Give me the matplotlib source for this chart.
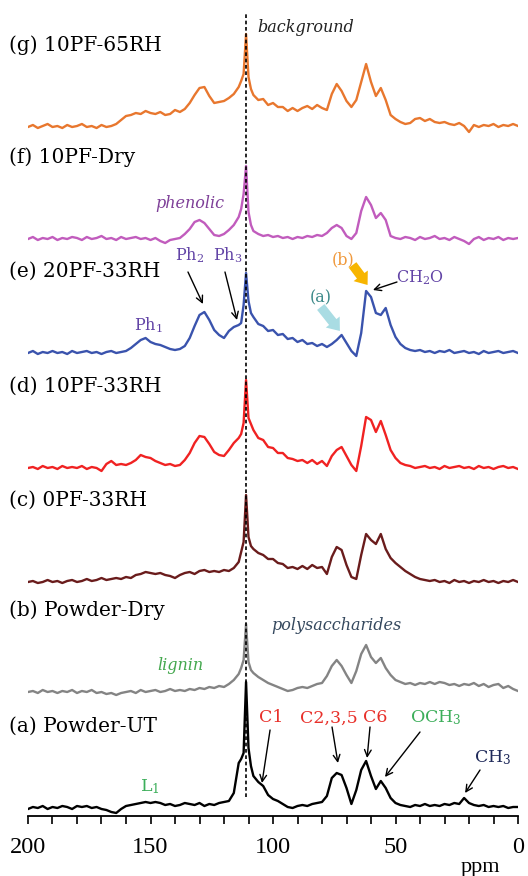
import matplotlib
matplotlib.use("Agg")
import matplotlib.pyplot as plt

plt.rcParams['mathtext.fontset'] = 'dejavuserif'

# ---------------- data (intensities, arbitrary units) -------------
ppm = list(range(200, 113, -2)) + [113, 112, 111, 110, 109] + list(range(108, -1, -2))

spec_g = [0, 2, -1, 1, 3, 0, 1, -1, 2, 0, 1, 3, 0, 1, -1, 2, 0, 1,
          3, 7, 11, 12, 14, 13, 16, 14, 13, 15, 12, 13, 17, 15, 18, 24, 32, 39, 40, 31, 24, 25, 26, 29, 33, 40,
          46, 53, 93, 50, 38,
          32, 27, 28, 22, 24, 20, 20, 16, 19, 16, 19, 21, 18, 22, 19, 17, 33, 43, 36, 26, 20, 27, 45, 63, 45,
          31, 39, 27, 12, 8, 5, 3, 4, 8, 9, 6, 8, 5, 4, 5, 3, 2, 4, 1, -5, 2, 0, 2, 1, 3, 0, 2, 1, 3, 1]

spec_f = [0, 2, -1, 1, 0, 2, -1, 1, 0, 2, 1, -1, 2, 0, 1, 3, 0, 1, -1, 2, 0, 1, 2, 0, 1, -1, 1, -2, -4, -1,
          0, 1, 5, 10, 17, 19, 16, 10, 4, 3, 5, 9, 14, 22,
          30, 45, 73, 27, 14,
          8, 5, 3, 4, 2, 3, 1, 2, 0, 2, 1, 3, 2, 4, 3, 6, 11, 14, 11, 3, 0, 6, 28, 42, 34,
          21, 26, 19, 3, 1, 0, 2, 1, -1, 2, 0, 1, 3, 0, 1, -1, 2, 0, -2, -5, 0, 2, -1, 1, 0, 2, -1, 1, 0, 1]

spec_e = [0, 2, -1, 1, 0, 2, 0, 1, -1, 2, 0, 1, 2, 0, 1, -1, 1, 2, 0, 1,
          2, 5, 9, 13, 15, 11, 9, 8, 6, 4, 3, 4, 7, 15, 27, 38, 41, 33, 23, 18, 15, 22, 26, 28,
          30, 48, 80, 52, 40,
          36, 29, 27, 22, 23, 18, 19, 14, 15, 11, 13, 9, 10, 7, 9, 6, 9, 13, 18, 10, 2, -3, 20, 62, 56,
          40, 38, 45, 28, 16, 9, 5, 3, 2, 3, 1, 2, 0, 2, 1, 3, 0, 1, 2, 0, 1, -1, 2, 0, 1, 2, 0, 1, 2, 0]

spec_d = [0, 1, -1, 2, 0, 1, -1, 2, 0, 1, 0, 2, -1, 1, 0, -3,
          4, 7, 3, 4, 3, 5, 8, 13, 11, 10, 7, 5, 3, 4, 2, 3, 8, 15, 25, 32, 31, 24, 16, 13, 12, 18, 25, 30,
          34, 45, 88, 50, 44,
          38, 30, 28, 21, 20, 15, 15, 10, 9, 7, 8, 5, 8, 4, 7, 2, 12, 18, 21, 12, 3, -3, 22, 51, 48,
          36, 47, 33, 18, 10, 5, 3, 2, 0, 1, 2, 0, 1, -1, 2, 0, 1, 2, 0, 1, -1, 2, 0, 1, -1, 1, 2, 0, 1, -1]

spec_c = [0, 1, -1, 0, 2, 0, 1, -1, 1, 2, 0, 1, 3, 1, 2, 4, 2, 3, 4, 3, 5, 4, 7, 8, 10, 9, 8, 9, 7, 6,
          4, 7, 9, 10, 8, 11, 12, 10, 11, 10, 12, 11, 14, 20,
          30, 40, 87, 45, 36,
          33, 29, 27, 23, 23, 19, 18, 14, 15, 13, 16, 13, 17, 14, 15, 8, 25, 35, 32, 17, 5, 3, 27, 48, 42,
          38, 48, 33, 24, 19, 15, 11, 8, 5, 3, 2, 1, 2, 0, 1, -1, 2, 0, 1, -1, 1, 0, 2, 0, 1, -1, 1, 0, 2, 0]

spec_b = [0, 1, -1, 2, 0, 1, -1, 1, 0, 2, -1, 1, 0, 2, -1, 0, -2, -1, -3, -1, 0, 1, -1, 2, 0, 1, 2, 0, 1, 3,
          1, 2, 1, 3, 2, 4, 3, 5, 4, 6, 5, 8, 12, 18,
          24, 32, 68, 30, 22,
          19, 15, 12, 9, 7, 5, 3, 1, 2, 4, 5, 4, 6, 8, 9, 16, 26, 32, 26, 17, 9, 21, 38, 47, 35,
          29, 34, 24, 17, 12, 10, 8, 9, 7, 9, 8, 10, 8, 10, 9, 7, 8, 6, 8, 7, 9, 6, 8, 5, 7, 8, 4, 6, 3, 1]

spec_a = [-1, 1, 0, 2, -1, 1, 0, 2, 1, -1, 2, 1, 2, 0, 1, -1, -2, -4, -5, -1, 2, 3, 4, 5, 6, 5, 6, 5, 3, 4,
          2, 3, 5, 4, 3, 5, 2, 4, 3, 5, 6, 7, 15, 45,
          49, 55, 126, 60, 42,
          32, 26, 22, 13, 9, 7, 4, 1, 0, 2, 3, 2, 4, 5, 6, 12, 30, 35, 33, 20, 4, 18, 38, 47, 32,
          19, 27, 20, 10, 5, 3, 2, 1, 3, 2, 4, 2, 3, 2, 4, 3, 5, 4, 10, 5, 3, 2, 3, 1, 2, 1, 2, 0, 1, 1]

trace_labels = ["(a) Powder-UT", "(b) Powder-Dry", "(c) 0PF-33RH", "(d) 10PF-33RH",
                "(e) 20PF-33RH", "(f) 10PF-Dry", "(g) 10PF-65RH"]
spectra = [spec_a, spec_b, spec_c, spec_d, spec_e, spec_f, spec_g]
ref_ppm = 111
x_ticks_major = [200, 150, 100, 50, 0]
x_ticks_minor = list(range(0, 201, 10))

# ---------------- layout / style -------------
offsets = [8, 124, 234, 348, 463, 577, 689]
colors = ["#000000", "#848484", "#6a1c1c", "#f02222", "#3a53ad", "#c15cbd", "#e8772e"]

fig = plt.figure(figsize=(5.28, 8.76), dpi=100)
ax = fig.add_axes([28 / 528, 60 / 876, 490 / 528, 816 / 876])
ax.set_xlim(200, 0)
ax.set_ylim(0, 816)

for s, off, c in zip(spectra, offsets, colors):
    ax.plot(ppm, [v + off for v in s], color=c, lw=1.7, solid_joinstyle='round', zorder=3)

ax.vlines(ref_ppm, 19, 803, colors='black', linestyles=(0, (2.2, 1.6)), lw=1.2, zorder=4)

lab_font = dict(family='DejaVu Serif', fontsize=14.5, color='black')
for lab, off in zip(trace_labels, offsets):
    ax.text(207.8, off + 82, lab, ha='left', va='center', clip_on=False, **lab_font)

ita = dict(family='DejaVu Serif', style='italic', fontsize=11.5)
ax.text(106.5, 788, "background", ha='left', va='center', color='#222222', **ita)
ax.text(133.9, 613, "phenolic", ha='center', va='center', color='#7e3f98', **ita)
ax.text(74.3, 190, "polysaccharides", ha='center', va='center', color='#34485e', **ita)
ax.text(138, 151, "lignin", ha='center', va='center', color='#45a84f', **ita)

reg = dict(family='DejaVu Serif', fontsize=11.5)
purple = '#6244a6'
ax.text(134.1, 561, "Ph$_2$", ha='center', va='center', color=purple, **reg)
ax.text(118.6, 561, "Ph$_3$", ha='center', va='center', color=purple, **reg)
ax.text(150.8, 491, "Ph$_1$", ha='center', va='center', color=purple, **reg)
ax.text(40, 538, "CH$_2$O", ha='center', va='center', color=purple, **reg)
ax.text(71.2, 556, "(b)", ha='center', va='center', color='#f0993c', **reg)
ax.text(80.4, 518, "(a)", ha='center', va='center', color='#3d8a8a', **reg)

creg = dict(family='DejaVu Serif', fontsize=12.5)
ax.text(100.8, 98, "C1", ha='center', va='center', color='#e8302a', **creg)
ax.text(77, 98, "C2,3,5", ha='center', va='center', color='#e8302a', **creg)
ax.text(58.4, 98, "C6", ha='center', va='center', color='#e8302a', **creg)
ax.text(33.5, 98, "OCH$_3$", ha='center', va='center', color='#3cae5a', **creg)
ax.text(10.2, 58, "CH$_3$", ha='center', va='center', color='#1f2a5a', **creg)
ax.text(150.2, 29, "L$_1$", ha='center', va='center', color='#3cae5a', **creg)

thin = dict(arrowstyle='->', color='black', lw=1.0, mutation_scale=12, shrinkA=0, shrinkB=0)
for tail, tip in [((134.7, 544), (128.6, 512)), ((119.6, 544), (114.7, 496)),
                  ((49.4, 534), (59.2, 526)),
                  ((101.2, 86), (104.5, 33)), ((75.9, 89), (73.5, 53)), ((60.4, 89), (61.6, 58)),
                  ((40, 84), (54.3, 39)), ((15.5, 46), (21.6, 23))]:
    ax.annotate('', xy=tip, xytext=tail, arrowprops=thin)

fat = 'simple,head_length=0.55,head_width=0.85,tail_width=0.45'
ax.annotate('', xy=(61.4, 531), xytext=(67.5, 551),
            arrowprops=dict(arrowstyle=fat, color='#f7b500', lw=0, mutation_scale=15, shrinkA=0, shrinkB=0))
ax.annotate('', xy=(72.7, 485), xytext=(80.5, 509),
            arrowprops=dict(arrowstyle=fat, color='#a9dce3', lw=0, mutation_scale=15, shrinkA=0, shrinkB=0))

for side in ['top', 'left', 'right']:
    ax.spines[side].set_visible(False)
ax.spines['bottom'].set_linewidth(1.3)
ax.set_yticks([])
ax.set_xticks(x_ticks_major)
ax.set_xticks(x_ticks_minor, minor=True)
ax.tick_params(axis='x', which='both', direction='out', length=6, width=1.2, pad=9)
for t in ax.get_xticklabels():
    t.set_family('Liberation Serif')
    t.set_fontsize(17.5)
ax.set_xlabel('ppm', family='Liberation Serif', fontsize=16)
ax.xaxis.set_label_coords((480 - 28) / 490, -0.052)

fig.savefig('out.png', dpi=100)
